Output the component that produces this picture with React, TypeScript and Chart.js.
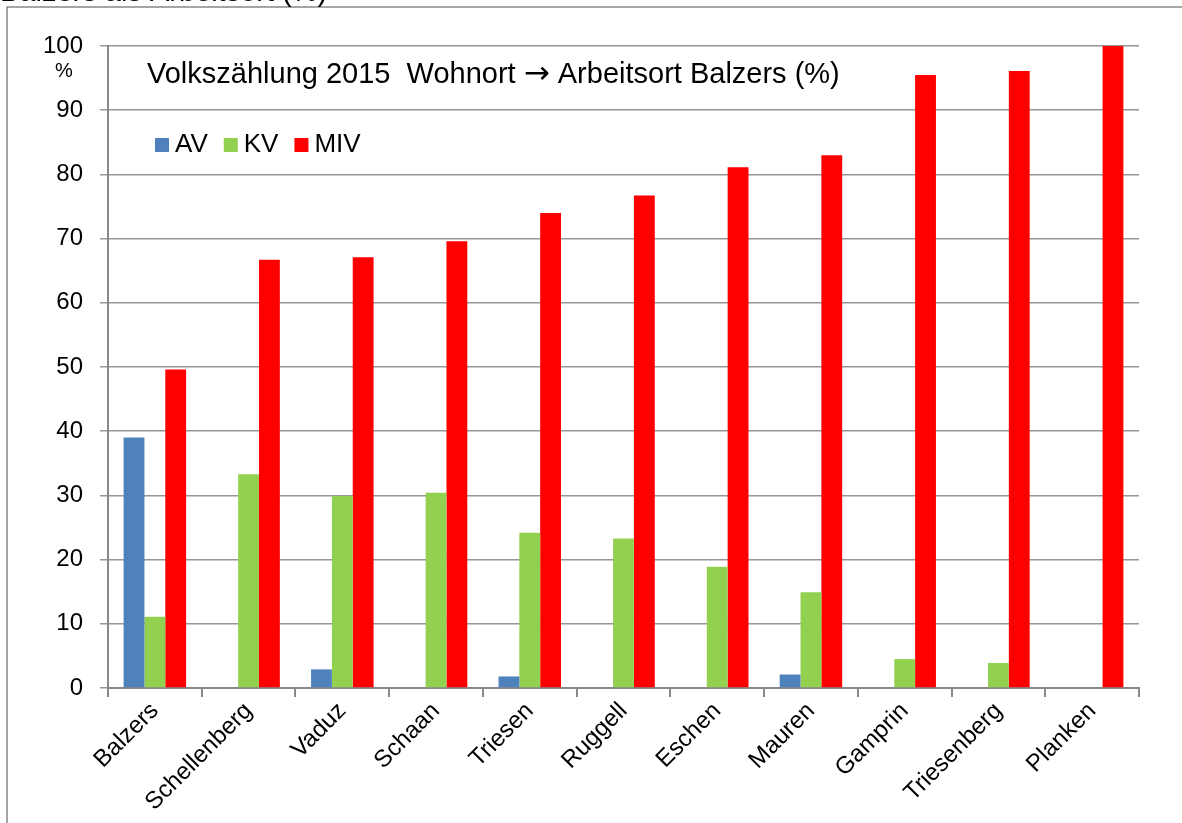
import React, { useEffect, useRef } from "react";
import { Chart, registerables } from "chart.js";

Chart.register(...registerables);

const categories = ["Balzers", "Schellenberg", "Vaduz", "Schaan", "Triesen", "Ruggell", "Eschen", "Mauren", "Gamprin", "Triesenberg", "Planken"];
const seriesNames = ["AV", "KV", "MIV"];
const avValues = [39.0, 0, 2.9, 0, 1.8, 0, 0, 2.1, 0, 0, 0];
const kvValues = [11.1, 33.3, 29.9, 30.4, 24.2, 23.3, 18.9, 14.9, 4.5, 3.9, 0];
const mivValues = [49.6, 66.7, 67.1, 69.6, 74.0, 76.7, 81.1, 83.0, 95.5, 96.1, 100];
const seriesColors = ["#4F81BD", "#92D050", "#FF0000"];
const titleParts = ["Volkszählung 2015  Wohnort ", "→", " Arbeitsort Balzers (%)"];
const outerTitle = "Balzers als Arbeitsort (%)";
const unitLabel = "%";

const FONT = "'Liberation Sans', Arial, sans-serif";
const ARROW_FONT = "'DejaVu Sans', sans-serif";

const decorPlugin = {
  id: "decor",
  beforeDraw(chart: any) {
    const ctx = chart.ctx;
    ctx.save();
    ctx.fillStyle = "#ffffff";
    ctx.fillRect(0, 0, chart.width, chart.height);
    ctx.strokeStyle = "#888888";
    ctx.lineWidth = 1.5;
    ctx.beginPath();
    ctx.moveTo(7, chart.height);
    ctx.lineTo(7, 7);
    ctx.lineTo(chart.width, 7);
    ctx.stroke();
    ctx.fillStyle = "#000000";
    ctx.font = `29px ${FONT}`;
    ctx.textBaseline = "alphabetic";
    ctx.textAlign = "left";
    ctx.fillText(outerTitle, 0, 1);
    ctx.restore();
  },
  afterDraw(chart: any) {
    const ctx = chart.ctx;
    const area = chart.chartArea;
    ctx.save();
    ctx.fillStyle = "#000000";
    ctx.textBaseline = "alphabetic";
    ctx.textAlign = "left";
    // title, with a wider arrow glyph
    let tx = area.left + 39;
    const ty = area.top + 37;
    titleParts.forEach((part, i) => {
      ctx.font = i === 1 ? `31px ${ARROW_FONT}` : `29px ${FONT}`;
      ctx.fillText(part, tx, ty);
      tx += ctx.measureText(part).width + (i === 1 ? 0 : 0);
    });
    ctx.font = `20px ${FONT}`;
    ctx.textAlign = "center";
    ctx.fillText(unitLabel, 64, area.top + 31);
    // legend
    ctx.font = `26px ${FONT}`;
    ctx.textAlign = "left";
    let x = area.left + 47;
    const y = area.top + 92;
    chart.data.datasets.forEach((ds: any) => {
      ctx.fillStyle = ds.backgroundColor;
      ctx.fillRect(x, y, 14, 14);
      ctx.fillStyle = "#000000";
      ctx.fillText(ds.label, x + 20, y + 14);
      const w = ctx.measureText(ds.label).width;
      x += 20 + w + 16;
    });
    ctx.restore();
  },
};

export default function App() {
  const ref = useRef<HTMLCanvasElement | null>(null);
  useEffect(() => {
    if (!ref.current) return;
    const values = [avValues, kvValues, mivValues];
    const chart = new Chart(ref.current, {
      type: "bar",
      data: {
        labels: categories,
        datasets: seriesNames.map((name, i) => ({
          label: name,
          data: values[i],
          backgroundColor: seriesColors[i],
          borderWidth: 0,
          categoryPercentage: 0.667,
          barPercentage: 1.0,
        })),
      },
      options: {
        animation: false,
        responsive: true,
        maintainAspectRatio: false,
        layout: { padding: { left: 0, top: 46, right: 43, bottom: 0 } },
        plugins: { legend: { display: false }, tooltip: { enabled: false }, title: { display: false } },
        scales: {
          x: {
            afterFit: (s: any) => { s.height = 135; },
            grid: { drawOnChartArea: false, drawTicks: true, tickLength: 9, color: "#888888", lineWidth: 2 },
            border: { color: "#888888", width: 2 },
            ticks: {
              autoSkip: false,
              maxRotation: 45,
              minRotation: 45,
              padding: 0,
              color: "#000000",
              font: { family: FONT, size: 24 },
            },
          },
          y: {
            min: 0,
            max: 100,
            afterFit: (s: any) => { s.width = 108; },
            grid: { color: "#969696", lineWidth: 1.5, tickLength: 8 },
            border: { color: "#888888", width: 2 },
            ticks: {
              stepSize: 10,
              padding: 17,
              color: "#000000",
              font: { family: FONT, size: 24 },
            },
          },
        },
      },
      plugins: [decorPlugin],
    });
    return () => chart.destroy();
  }, []);
  return (
    <div style={{ position: "absolute", left: 0, top: 0, width: 1182, height: 823 }}>
      <canvas ref={ref} />
    </div>
  );
}
